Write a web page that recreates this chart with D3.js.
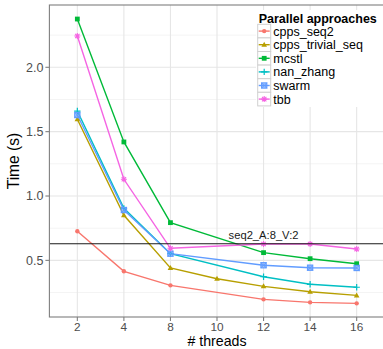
<!DOCTYPE html>
<html>
<head>
<meta charset="utf-8">
<script src="https://cdn.jsdelivr.net/npm/d3@7"></script>
<style>
	body { margin: 0; background: #fff; }
	svg { display: block; font-family: "Liberation Sans", Arial, sans-serif; }
</style>
</head>
<body>
<div id="chart"></div>
<script>
// thread counts on the (discrete) x axis
const threads = [2, 4, 8, 10, 12, 14, 16];
const approaches = ['cpps_seq2', 'cpps_trivial_seq', 'mcstl', 'nan_zhang', 'swarm', 'tbb'];
// time in seconds, null = not measured
const cpps_seq2 = [0.726, 0.415, 0.306, null, 0.197, 0.174, 0.166];
const cpps_trivial_seq = [1.596, 0.850, 0.441, 0.357, 0.298, 0.256, 0.228];
const mcstl = [2.375, 1.420, 0.793, null, 0.560, 0.513, 0.474];
const nan_zhang = [1.660, 0.904, 0.552, null, 0.373, 0.314, 0.291];
const swarm = [1.629, 0.891, 0.552, null, 0.462, 0.443, 0.441];
const tbb = [2.243, 1.130, 0.594, null, 0.627, 0.627, 0.588];
const refLabel = 'seq2_A:8_V:2';
const refValue = 0.629;
const yTicks = [0.5, 1.0, 1.5, 2.0];
const yMinor = [0.25, 0.75, 1.25, 1.75, 2.25];

const seriesValues = [cpps_seq2, cpps_trivial_seq, mcstl, nan_zhang, swarm, tbb];
const colors = ['#F8766D', '#B79F00', '#00BA38', '#00BFC4', '#619CFF', '#F564E3'];
const shapes = ['circle', 'triangle', 'square', 'plus', 'squarecross', 'asterisk'];

const W = 383, H = 349;
const panel = {left: 49.4, right: 384.6, top: 5, bottom: 317};

const svg = d3.select('#chart').append('svg')
	.attr('width', W)
	.attr('height', H)
	.attr('viewBox', `0 0 ${W} ${H}`);

const x = d3.scalePoint()
	.domain(threads)
	.range([panel.left, panel.right])
	.padding(0.6);

const y = d3.scaleLinear()
	.domain([0.060, 2.484])
	.range([panel.bottom, panel.top]);

// panel background + grid
svg.append('rect')
	.attr('x', panel.left).attr('y', panel.top)
	.attr('width', panel.right - panel.left).attr('height', panel.bottom - panel.top)
	.attr('fill', '#fff');

const grid = svg.append('g');
grid.selectAll('.minor')
	.data(yMinor)
	.enter().append('line')
	.attr('x1', panel.left).attr('x2', panel.right)
	.attr('y1', d => y(d)).attr('y2', d => y(d))
	.attr('stroke', '#f4f4f4').attr('stroke-width', 1);
grid.selectAll('.majorY')
	.data(yTicks)
	.enter().append('line')
	.attr('x1', panel.left).attr('x2', panel.right)
	.attr('y1', d => y(d)).attr('y2', d => y(d))
	.attr('stroke', '#e6e6e6').attr('stroke-width', 1.1);
grid.selectAll('.majorX')
	.data(threads)
	.enter().append('line')
	.attr('x1', d => x(d)).attr('x2', d => x(d))
	.attr('y1', panel.top).attr('y2', panel.bottom)
	.attr('stroke', '#e6e6e6').attr('stroke-width', 1.1);

// series lines
const data = approaches.map((name, i) => ({
	name,
	color: colors[i],
	shape: shapes[i],
	points: threads.map((t, j) => ({t, v: seriesValues[i][j]})).filter(p => p.v !== null)
}));

const line = d3.line()
	.x(d => x(d.t))
	.y(d => y(d.v));

const lines = svg.append('g');
lines.selectAll('path')
	.data(data)
	.enter().append('path')
	.attr('d', d => line(d.points))
	.attr('fill', 'none')
	.attr('stroke', d => d.color)
	.attr('stroke-width', 1.4);

function drawMarker(g, shape, color, cx, cy) {
	const s = 2.6;
	switch (shape) {
		case 'circle':
			g.append('circle').attr('cx', cx).attr('cy', cy).attr('r', 2.2).attr('fill', color);
			break;
		case 'triangle':
			g.append('path')
				.attr('d', `M${cx},${cy - 3}L${cx + 2.8},${cy + 2}L${cx - 2.8},${cy + 2}Z`)
				.attr('fill', color);
			break;
		case 'square':
			g.append('rect').attr('x', cx - 2.4).attr('y', cy - 2.4).attr('width', 4.8).attr('height', 4.8).attr('fill', color);
			break;
		case 'plus':
			g.append('path')
				.attr('d', `M${cx - 3.2},${cy}H${cx + 3.2}M${cx},${cy - 3.2}V${cy + 3.2}`)
				.attr('stroke', color).attr('stroke-width', 1.2).attr('fill', 'none');
			break;
		case 'squarecross':
			g.append('rect').attr('x', cx - s).attr('y', cy - s).attr('width', 2 * s).attr('height', 2 * s)
				.attr('fill', color).attr('fill-opacity', 0.55).attr('stroke', color).attr('stroke-width', 1.2);
			g.append('path')
				.attr('d', `M${cx - s},${cy - s}L${cx + s},${cy + s}M${cx + s},${cy - s}L${cx - s},${cy + s}`)
				.attr('stroke', color).attr('stroke-width', 1);
			break;
		case 'asterisk':
			g.append('path')
				.attr('d', `M${cx - 3},${cy}H${cx + 3}M${cx},${cy - 3}V${cy + 3}M${cx - 2.2},${cy - 2.2}L${cx + 2.2},${cy + 2.2}M${cx + 2.2},${cy - 2.2}L${cx - 2.2},${cy + 2.2}`)
				.attr('stroke', color).attr('stroke-width', 1.1).attr('fill', 'none');
			break;
	}
}

const markers = svg.append('g');
data.forEach(s => {
	s.points.forEach(p => drawMarker(markers, s.shape, s.color, x(p.t), y(p.v)));
});

// reference line
svg.append('line')
	.attr('x1', panel.left).attr('x2', panel.right)
	.attr('y1', y(refValue)).attr('y2', y(refValue))
	.attr('stroke', '#1a1a1a').attr('stroke-width', 1.1);
svg.append('text')
	.attr('x', x(12))
	.attr('y', y(refValue) - 4.5)
	.attr('text-anchor', 'middle')
	.attr('font-size', 11.2)
	.attr('fill', '#1a1a1a')
	.text(refLabel);

// panel border
svg.append('rect')
	.attr('x', panel.left).attr('y', panel.top)
	.attr('width', panel.right - panel.left).attr('height', panel.bottom - panel.top)
	.attr('fill', 'none').attr('stroke', '#7f7f7f').attr('stroke-width', 1.1);

// axes
const yAxis = svg.append('g');
yTicks.forEach(t => {
	yAxis.append('line')
		.attr('x1', panel.left - 4).attr('x2', panel.left)
		.attr('y1', y(t)).attr('y2', y(t))
		.attr('stroke', '#7f7f7f').attr('stroke-width', 1.1);
	yAxis.append('text')
		.attr('x', panel.left - 6).attr('y', y(t))
		.attr('dy', '0.35em')
		.attr('text-anchor', 'end')
		.attr('font-size', 12.5)
		.attr('fill', '#4d4d4d')
		.text(d3.format('.1f')(t));
});

const xAxis = svg.append('g');
threads.forEach(t => {
	xAxis.append('line')
		.attr('x1', x(t)).attr('x2', x(t))
		.attr('y1', panel.bottom).attr('y2', panel.bottom + 4)
		.attr('stroke', '#7f7f7f').attr('stroke-width', 1.1);
	xAxis.append('text')
		.attr('x', x(t)).attr('y', 330.6)
		.attr('text-anchor', 'middle')
		.attr('font-size', 11.8)
		.attr('fill', '#4d4d4d')
		.text(t);
});

svg.append('text')
	.attr('x', (panel.left + panel.right) / 2)
	.attr('y', 345.9)
	.attr('text-anchor', 'middle')
	.attr('font-size', 14.2)
	.attr('fill', '#000')
	.text('# threads');

svg.append('text')
	.attr('transform', `translate(19, ${(panel.top + panel.bottom) / 2}) rotate(-90)`)
	.attr('text-anchor', 'middle')
	.attr('font-size', 15.6)
	.attr('fill', '#000')
	.text('Time (s)');

// legend
const legend = svg.append('g').attr('transform', 'translate(256, 10)');
legend.append('rect')
	.attr('x', 0).attr('y', 0)
	.attr('width', 130).attr('height', 97)
	.attr('fill', '#fff');
legend.append('text')
	.attr('x', 2.7).attr('y', 13)
	.attr('font-size', 12.5)
	.attr('font-weight', 'bold')
	.attr('fill', '#000')
	.text('Parallel approaches');

const items = legend.selectAll('.item')
	.data(data)
	.enter().append('g')
	.attr('transform', (d, i) => `translate(1.7, ${14.3 + i * 13.6})`);
items.append('rect')
	.attr('x', 0).attr('y', 0)
	.attr('width', 13).attr('height', 13.6)
	.attr('fill', '#fff')
	.attr('stroke', '#d0d0d0').attr('stroke-width', 1);
items.append('line')
	.attr('x1', 1).attr('x2', 12)
	.attr('y1', 6.8).attr('y2', 6.8)
	.attr('stroke', d => d.color).attr('stroke-width', 1.4);
items.each(function(d) {
	drawMarker(d3.select(this), d.shape, d.color, 6.5, 6.8);
});
items.append('text')
	.attr('x', 15.6).attr('y', 6.8)
	.attr('dy', '0.36em')
	.attr('font-size', 12.5)
	.attr('fill', '#000')
	.text(d => d.name);
</script>
</body>
</html>
